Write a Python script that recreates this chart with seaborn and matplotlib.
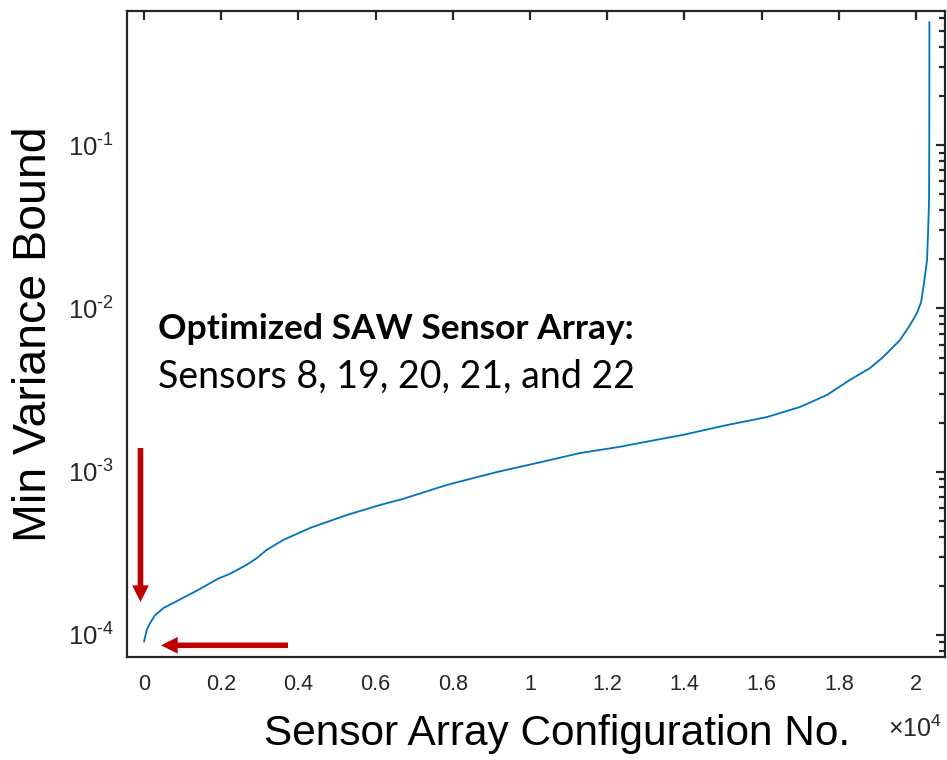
import matplotlib
matplotlib.use("Agg")
import matplotlib.pyplot as plt
import seaborn as sns
from matplotlib.ticker import FixedLocator, FixedFormatter, LogLocator, NullLocator
from matplotlib.patches import FancyArrowPatch

# Sorted minimum-variance bound for every sensor array configuration
config_no = [1, 70, 155, 285, 500, 760, 933, 1373, 1917, 2228, 2660, 2919, 3178,
             3609, 4301, 5259, 6114, 6710, 7850, 9145, 10181, 11295, 12332, 12850,
             13964, 15104, 16140, 16995, 17694, 18290, 18808, 19145, 19585, 19845,
             20026, 20130, 20207, 20285, 20311, 20337, 20342, 20346]
min_var_bound = [9.1e-5, 1.07e-4, 1.18e-4, 1.32e-4, 1.46e-4, 1.57e-4, 1.65e-4,
                 1.87e-4, 2.21e-4, 2.37e-4, 2.69e-4, 2.95e-4, 3.32e-4, 3.82e-4,
                 4.52e-4, 5.43e-4, 6.25e-4, 6.81e-4, 8.30e-4, 9.95e-4, 1.13e-3,
                 1.30e-3, 1.42e-3, 1.50e-3, 1.68e-3, 1.93e-3, 2.16e-3, 2.49e-3,
                 2.95e-3, 3.65e-3, 4.31e-3, 5.03e-3, 6.40e-3, 7.91e-3, 9.38e-3,
                 1.09e-2, 1.43e-2, 1.98e-2, 2.90e-2, 4.61e-2, 1.0e-1, 0.567]

x_ticks = [0, 2000, 4000, 6000, 8000, 10000, 12000, 14000, 16000, 18000, 20000]
x_tick_labels = ["0", "0.2", "0.4", "0.6", "0.8", "1", "1.2", "1.4", "1.6", "1.8", "2"]
y_ticks = [1e-4, 1e-3, 1e-2, 1e-1]
y_tick_labels = [r"$\mathdefault{10^{\text{-}4}}$", r"$\mathdefault{10^{\text{-}3}}$",
                 r"$\mathdefault{10^{\text{-}2}}$", r"$\mathdefault{10^{\text{-}1}}$"]

x_label = "Sensor Array Configuration No."
y_label = "Min Variance Bound"
note_title = "Optimized SAW Sensor Array:"
note_body = "Sensors 8, 19, 20, 21, and 22"

sns.set_theme(style="white")
plt.rcParams["font.family"] = ["Liberation Sans", "DejaVu Sans"]
plt.rcParams["mathtext.fontset"] = "custom"
plt.rcParams["mathtext.rm"] = "Liberation Sans"
plt.rcParams["mathtext.it"] = "Liberation Sans:italic"
plt.rcParams["mathtext.bf"] = "Liberation Sans:bold"

axis_color = "#262626"

fig = plt.figure(figsize=(9.47, 7.6), dpi=100)
ax = fig.add_axes([127 / 947, 103 / 760, 818 / 947, 646 / 760])

sns.lineplot(x=config_no, y=min_var_bound, ax=ax, color="#0072BD", lw=1.3)

ax.set_yscale("log")
ax.set_xlim(-440, 20750)
ax.set_ylim(7.33e-5, 0.662)

ax.xaxis.set_major_locator(FixedLocator(x_ticks))
ax.xaxis.set_major_formatter(FixedFormatter(x_tick_labels))
ax.xaxis.set_minor_locator(NullLocator())
ax.yaxis.set_major_locator(FixedLocator(y_ticks))
ax.yaxis.set_major_formatter(FixedFormatter(y_tick_labels))
ax.yaxis.set_minor_locator(LogLocator(base=10, subs=range(2, 10), numticks=20))

for side in ["left", "right", "top", "bottom"]:
    ax.spines[side].set_visible(True)
    ax.spines[side].set_color(axis_color)
    ax.spines[side].set_linewidth(1.6)

ax.tick_params(which="both", direction="in", top=True, right=True,
               color=axis_color, width=1.6)
ax.tick_params(which="major", length=6.5)
ax.tick_params(which="minor", length=4.5)
ax.tick_params(axis="x", which="major", labelsize=15.5, pad=12, labelcolor=axis_color)
ax.tick_params(axis="y", which="major", labelsize=18.5, pad=9, labelcolor=axis_color)

ax.set_xlabel(x_label, fontsize=30.5, color="black")
ax.xaxis.set_label_coords(0.526, -0.088)
ax.set_ylabel(y_label, fontsize=33.5, color="black")
ax.yaxis.set_label_coords(-0.087, 0.5)

# exponent for the x tick labels
ax.text(0.930, -0.124, r"$\times\mathdefault{10^{4}}$", transform=ax.transAxes,
        fontsize=18, color=axis_color, ha="left", va="baseline")

# annotation for the best configuration
ax.text(0.0379, 0.4930, note_title, transform=ax.transAxes, family="Lato",
        fontweight="bold", fontsize=25.5, color="black", va="baseline")
ax.text(0.0379, 0.4164, note_body, transform=ax.transAxes, family="Lato",
        fontsize=27, color="black", va="baseline")

arrow_style = "simple,head_length=12,head_width=12,tail_width=4"
for tail, tip in [((0.0165, 0.3235), (0.0165, 0.0851)),
                  ((0.1968, 0.0181), (0.0416, 0.0181))]:
    ax.add_patch(FancyArrowPatch(posA=tail, posB=tip, transform=ax.transAxes,
                                 arrowstyle=arrow_style, mutation_scale=1,
                                 color="#C00000", lw=0, shrinkA=0, shrinkB=0))

fig.savefig("out.png", dpi=100)
